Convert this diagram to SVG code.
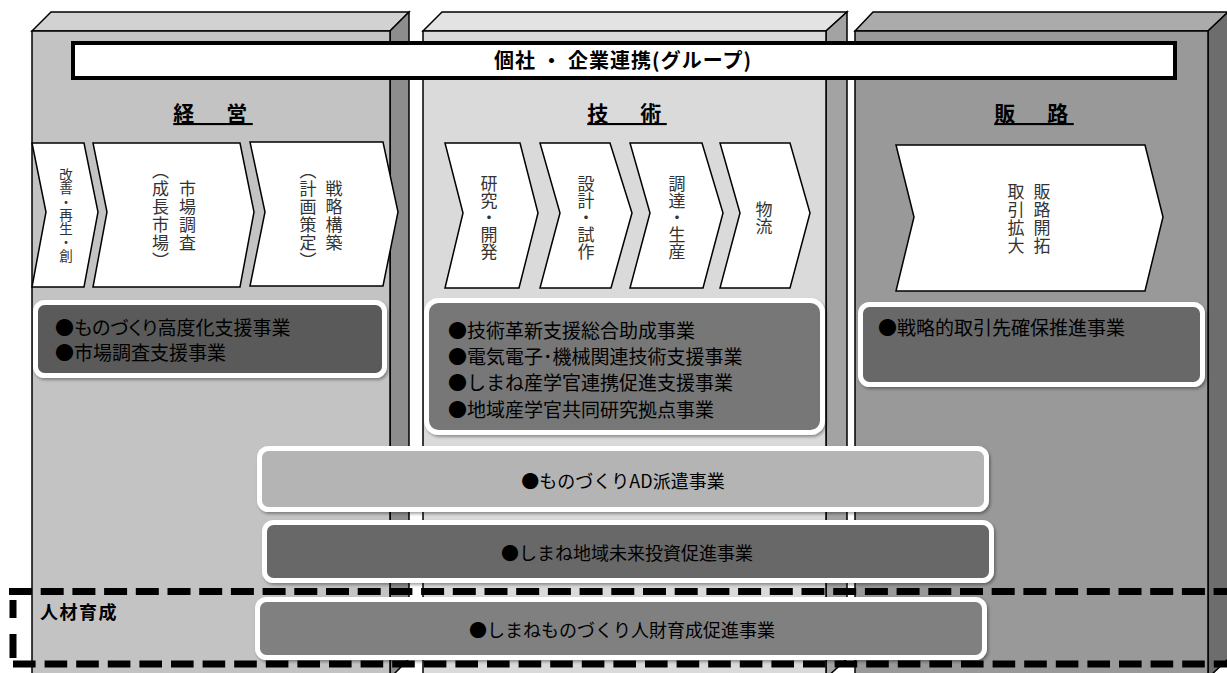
<svg xmlns="http://www.w3.org/2000/svg" width="1227" height="673" viewBox="0 0 1227 673">
<defs>
<style>
text{font-family:"Noto Sans CJK JP","Noto Sans CJK SC",sans-serif;fill:#000}
.edge{stroke:#000;stroke-width:1.5;stroke-linejoin:miter}
.chev{fill:#fff;stroke:#000;stroke-width:1.5;stroke-linejoin:miter}
.vt{writing-mode:vertical-rl;text-anchor:middle;font-size:17px;fill:#333;letter-spacing:1px}
.prog{stroke:#fff;stroke-width:5}
.pt{font-size:19px}
.bt{font-size:18px;text-anchor:middle}
.head{font-size:21px;font-weight:bold;text-anchor:middle;text-decoration:underline;letter-spacing:5.5px}
.dash{stroke:#000;stroke-width:7;fill:none}
</style>
<filter id="sh" x="-5%" y="-10%" width="110%" height="130%">
<feDropShadow dx="1.5" dy="2" stdDeviation="1.5" flood-color="#000" flood-opacity="0.35"/>
</filter>
</defs>
<rect width="1227" height="673" fill="#fff"/>

<g id="col-keiei">
<polygon class="edge" fill="#d2d2d2" points="32,31 51,12 409,12 390,31"/>
<polygon class="edge" fill="#8d8d8d" points="390,31 409,12 409,659 390,678"/>
<rect class="edge" fill="#c3c3c3" x="32" y="31" width="358" height="660"/>
</g>
<g id="col-gijutsu">
<polygon class="edge" fill="#e3e3e3" points="423,31 442,12 847,12 826,31"/>
<polygon class="edge" fill="#a3a3a3" points="826,31 847,12 847,659 826,678"/>
<rect class="edge" fill="#dadada" x="423" y="31" width="403" height="660"/>
</g>
<g id="col-hanro">
<polygon class="edge" fill="#ababab" points="855,31 873,12 1228,12 1208,31"/>
<polygon class="edge" fill="#6d6d6d" points="1208,31 1228,12 1228,659 1208,678"/>
<rect class="edge" fill="#999999" x="855" y="31" width="353" height="660"/>
</g>

<g id="banner">
<rect x="73" y="43" width="1102" height="35" fill="#fff" stroke="#000" stroke-width="4"/>
<text x="623" y="67.5" font-size="20" font-weight="bold" text-anchor="middle" letter-spacing="1">個社 ・ 企業連携(グループ)</text>
</g>

<g id="heading-keiei"><text class="head" x="213" y="121">経　営</text></g>
<g id="heading-gijutsu"><text class="head" x="627" y="121">技　術</text></g>
<g id="heading-hanro"><text class="head" x="1034" y="121">販　路</text></g>

<g id="chev-kaizen">
<polygon class="chev" points="32,143 84,143 98,212 84,287 32,287 46,212"/>
<text class="vt" x="66" y="215" style="font-size:13.5px;letter-spacing:0">改善・再生・創</text>
</g>
<g id="chev-shijo">
<polygon class="chev" points="93,143 240,143 254,212 240,287 93,287 107,212"/>
<text class="vt" x="187.5" y="216">市場調査</text>
<text class="vt" x="160.5" y="216">（成長市場）</text>
</g>
<g id="chev-senryaku">
<polygon class="chev" points="250,142 383,142 398,212 383,286 250,286 265,212"/>
<text class="vt" x="334" y="216">戦略構築</text>
<text class="vt" x="308" y="216">（計画策定）</text>
</g>
<g id="chev-kenkyu">
<polygon class="chev" points="445,143 520,143 538,213 519,288 445,288 463,213"/>
<text class="vt" x="489" y="218" style="letter-spacing:0">研究・開発</text>
</g>
<g id="chev-sekkei">
<polygon class="chev" points="540,143 610,143 632,213 611,288 540,288 560,213"/>
<text class="vt" x="586" y="218" style="letter-spacing:0">設計・試作</text>
</g>
<g id="chev-chotatsu">
<polygon class="chev" points="630,143 702,143 723,213 703,288 630,288 650,213"/>
<text class="vt" x="677" y="218" style="letter-spacing:0">調達・生産</text>
</g>
<g id="chev-butsuryu">
<polygon class="chev" points="720,143 790,143 810,213 790,288 720,288 740,213"/>
<text class="vt" x="764" y="218" style="letter-spacing:0">物流</text>
</g>
<g id="chev-hanro">
<polygon class="chev" points="896,145 1145,145 1163,217 1145,291 896,291 914,217"/>
<text class="vt" x="1042" y="219">販路開拓</text>
<text class="vt" x="1016" y="219">取引拡大</text>
</g>

<g id="prog-keiei">
<rect class="prog" x="35.5" y="302.5" width="349" height="73" rx="9" fill="#5a5a5a" filter="url(#sh)"/>
<text class="pt" x="55" y="334.5" style="font-feature-settings:'palt'">●ものづくり高度化支援事業</text>
<text class="pt" x="55" y="359.5">●市場調査支援事業</text>
</g>
<g id="prog-gijutsu">
<rect class="prog" x="426.5" y="300.5" width="396" height="132" rx="12" fill="#777777" filter="url(#sh)"/>
<text class="pt" x="448" y="337.5">●技術革新支援総合助成事業</text>
<text class="pt" x="448" y="364">●電気電子･機械関連技術支援事業</text>
<text class="pt" x="448" y="390">●しまね産学官連携促進支援事業</text>
<text class="pt" x="448" y="416.5">●地域産学官共同研究拠点事業</text>
</g>
<g id="prog-hanro">
<rect class="prog" x="860.5" y="304.5" width="342" height="80" rx="9" fill="#676767" filter="url(#sh)"/>
<text class="pt" x="878" y="335">●戦略的取引先確保推進事業</text>
</g>

<g id="jinzai-frame">
<line class="dash" x1="9" y1="591.5" x2="1227" y2="591.5" stroke-dasharray="23 8.7"/>
<line class="dash" x1="13" y1="664" x2="1227" y2="664" stroke-dasharray="22.6 9"/>
<path class="dash" d="M13,600 V618 M13,634 V658"/>
<text x="40" y="619" font-size="18" font-weight="bold" letter-spacing="1.5">人材育成</text>
</g>

<g id="bar-ad">
<rect class="prog" x="259.5" y="448.5" width="727" height="61" rx="9" fill="#b4b4b4" filter="url(#sh)"/>
<text class="bt" x="623" y="487.5">●ものづくりAD派遣事業</text>
</g>
<g id="bar-mirai">
<rect class="prog" x="264.5" y="522.5" width="727" height="58" rx="9" fill="#686868" filter="url(#sh)"/>
<text class="bt" x="627" y="559.5">●しまね地域未来投資促進事業</text>
</g>
<g id="bar-jinzai">
<rect class="prog" x="257.5" y="599.5" width="727" height="58" rx="9" fill="#808080" filter="url(#sh)"/>
<text class="bt" x="622" y="637">●しまねものづくり人財育成促進事業</text>
</g>
</svg>
